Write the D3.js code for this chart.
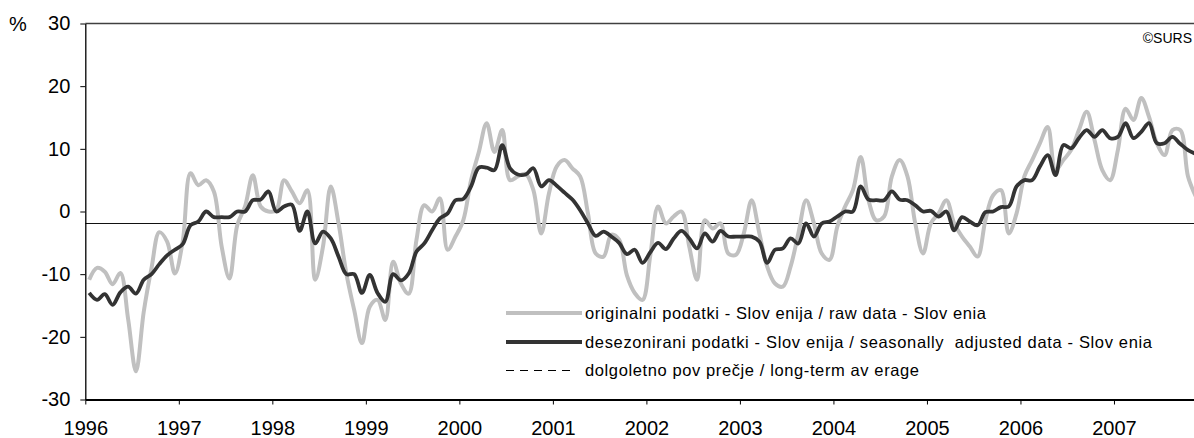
<!DOCTYPE html>
<html>
<head>
<meta charset="utf-8">
<script src="https://cdn.jsdelivr.net/npm/d3@7"></script>
<style>
  body { margin: 0; background: #fff; }
  svg text { font-family: "Liberation Sans", Arial, sans-serif; fill: #000; }
</style>
</head>
<body>
<div id="plot"></div>
<script>
// monthly data, Jan 1996 onwards

  const years = ["1996","1997","1998","1999","2000","2001","2002","2003","2004","2005","2006","2007"];

  const rawData = [
    -10.9, -9.0, -9.6, -11.6, -9.8, -17.2, -25.5, -16.0, -9.0, -3.3, -4.8, -9.9,
    -4.8, 6.1, 4.2, 5.0, 3.2, -5.6, -10.7, -2.2, 0.8, 5.8, 0.8, 0,
    0.2, 5.0, 3.2, 1.3, 3.4, -10.9, -5.6, 4.0, -1.9, -9.9, -15.7, -21.0,
    -15.2, -14.1, -17.3, -8.0, -11.5, -13.1, -4.5, 1.0, 0, 2.1, -6.1, -4.0,
    -1.4, 5.0, 9.5, 14.1, 9.5, 13.0, 5.0, 5.6, 6.0, 3.4, -3.5, 2.9,
    7.2, 8.2, 6.9, 5.6, -0.3, -6.7, -7.2, -3.7, -4.5, -10.2, -13.0, -14.1,
    -7.0, 0.8, -1.9, -0.8, 0, -5.6, -10.9, -1.4, -2.7, -1.9, -6.7, -6.9,
    -3.5, 1.8, -3.5, -8.8, -11.5, -12.0, -8.8, -3.5, 1.8, -1.9, -6.7, -7.7,
    -2.4, 0.8, 3.4, 8.7, 1.8, -1.4, -0.8, 5.6, 8.2, 5.6, -1.9, -6.7,
    -1.9, -0.3, 1.8, -1.9, -4.0, -5.6, -7.2, -1.4, 2.6, 3.4, -3.5, -0.3,
    5.6, 8.2, 10.9, 13.5, 6.6, 8.2, 9.8, 13.0, 15.9, 11.4, 6.6, 5.0,
    9.8, 16.4, 14.6, 18.1, 15.1, 10.9, 9.0, 13.0, 13.0, 5.6, 2.4
  ];

  const adjData = [
    -13.0, -14.1, -13.2, -14.9, -12.9, -12.0, -13.1, -10.9, -10.0, -8.4, -7.0, -6.1,
    -5.2, -2.2, -1.6, 0, -0.9, -0.9, -0.9, 0, 0, 1.8, 1.9, 3.2,
    0, 0.8, 1.1, -3.1, 0, -5.1, -3.2, -4.3, -7.2, -10.0, -10.0, -13.0,
    -10.1, -13.0, -14.4, -10.0, -11.0, -9.9, -6.4, -5.1, -3.0, -1.1, -0.3, 1.8,
    2.0, 4.0, 7.0, 7.0, 6.6, 10.6, 6.9, 5.9, 5.9, 6.9, 4.0, 5.0,
    4.1, 3.0, 1.9, 0.2, -1.9, -3.9, -3.2, -4.0, -5.0, -6.8, -6.1, -8.2,
    -6.5, -5.0, -6.0, -4.3, -3.1, -4.3, -5.9, -3.5, -4.8, -3.1, -4.0, -4.0,
    -4.0, -4.0, -4.8, -8.2, -6.1, -5.9, -4.3, -5.1, -1.9, -4.0, -1.9, -1.6,
    -0.8, 0, 0, 4.0, 1.9, 1.8, 1.8, 3.2, 1.9, 1.8, 1.0, 0,
    0.1, -0.8, 0, -3.0, -0.9, -1.6, -2.2, -0.1, 0, 0.7, 0.8, 4.0,
    5.0, 5.0, 7.2, 9.0, 5.8, 10.6, 10.1, 11.7, 13.0, 11.9, 13.0, 11.7,
    11.9, 14.1, 11.7, 12.7, 14.1, 10.9, 10.9, 11.9, 10.8, 9.8, 9.2
  ];

  const longTermAvg = -1.85;
  const yTicks = [-30, -20, -10, 0, 10, 20, 30];

  const legendLabels = [
    "originalni podatki - Slov enija / raw data - Slov enia",
    "desezonirani podatki - Slov enija / seasonally  adjusted data - Slov enia",
    "dolgoletno pov prečje / long-term av erage"
  ];

  const w = 1194;
  const h = 438;
  const left = 85.3;
  const monthW = 7.793;
  const font = "Liberation Sans, Arial, sans-serif";

  const xScale = d3.scaleLinear()
      .domain([0, 144])
      .range([left, left + 144 * monthW]);

  const yScale = d3.scaleLinear()
      .domain([-30, 30])
      .range([399.5, 23.5]);

  const svg = d3.select("#plot")
    .append("svg")
      .attr("width", w)
      .attr("height", h);

// top border of plot area

  svg.append("line")
      .attr("x1", left).attr("x2", w)
      .attr("y1", yScale(30)).attr("y2", yScale(30))
      .attr("stroke", "#404040")
      .attr("stroke-width", 1.3);

// long-term average

  svg.append("line")
      .attr("x1", left).attr("x2", w)
      .attr("y1", Math.round(yScale(longTermAvg)) + 0.5)
      .attr("y2", Math.round(yScale(longTermAvg)) + 0.5)
      .attr("stroke", "#111")
      .attr("stroke-width", 1);

// series lines

  const rawLine = d3.line()
      .x((d, i) => xScale(i + 0.5))
      .y(d => yScale(d))
      .curve(d3.curveCatmullRom.alpha(0.5));

  const adjLine = d3.line()
      .x((d, i) => xScale(i + 0.5))
      .y(d => yScale(d))
      .curve(d3.curveCatmullRom.alpha(0.5));

  svg.append("path")
      .datum(rawData)
      .attr("d", rawLine)
      .attr("fill", "none")
      .attr("stroke", "#c0c0c0")
      .attr("stroke-width", 4)
      .attr("stroke-linejoin", "round");

  svg.append("path")
      .datum(adjData)
      .attr("d", adjLine)
      .attr("fill", "none")
      .attr("stroke", "#333333")
      .attr("stroke-width", 3.8)
      .attr("stroke-linejoin", "round");

// axes

  const xAxis = d3.axisBottom(xScale)
      .tickValues(years.map((y, i) => i * 12))
      .tickFormat((d, i) => years[i])
      .tickSizeInner(5)
      .tickSizeOuter(0)
      .tickPadding(16.5);

  const yAxis = d3.axisLeft(yScale)
      .tickValues(yTicks)
      .tickFormat(d => String(d))
      .tickSizeInner(5)
      .tickSizeOuter(0)
      .tickPadding(10);

  const gx = svg.append("g")
      .attr("transform", `translate(0, ${yScale(-30)})`)
      .call(xAxis);
  gx.select(".domain").attr("stroke", "#000").attr("stroke-width", 2);
  gx.selectAll(".tick line").attr("stroke", "#000");
  gx.selectAll("text").attr("font-size", 20).attr("font-family", font).attr("fill", "#000");

  const gy = svg.append("g")
      .attr("transform", `translate(${left}, 0)`)
      .call(yAxis);
  gy.select(".domain").attr("stroke", "#000").attr("stroke-width", 1.3);
  gy.selectAll(".tick line").attr("stroke", "#000");
  gy.selectAll("text").attr("font-size", 20).attr("font-family", font).attr("fill", "#000");

  svg.append("text")
      .attr("x", 9)
      .attr("y", yScale(30))
      .attr("dy", "0.35em")
      .attr("font-size", 20)
      .text("%");

  svg.append("text")
      .attr("x", 1192)
      .attr("y", 43)
      .attr("text-anchor", "end")
      .attr("font-size", 14)
      .text("©SURS");

// legend

  const legendY = [313, 342, 370];
  const legendWidths = [401, 567, 334];
  const legendStyle = [
    {stroke: "#c0c0c0", width: 4, dash: null, x2: 582},
    {stroke: "#333333", width: 3.8, dash: null, x2: 582},
    {stroke: "#000", width: 1, dash: "8,6", x2: 574}
  ];

  const legend = svg.append("g");
  legendLabels.forEach((label, i) => {
    legend.append("line")
        .attr("x1", 506).attr("x2", legendStyle[i].x2)
        .attr("y1", legendY[i] + (i === 2 ? 0.5 : 0))
        .attr("y2", legendY[i] + (i === 2 ? 0.5 : 0))
        .attr("stroke", legendStyle[i].stroke)
        .attr("stroke-width", legendStyle[i].width)
        .attr("stroke-dasharray", legendStyle[i].dash);
    legend.append("text")
        .attr("x", 585)
        .attr("y", legendY[i])
        .attr("dy", "0.35em")
        .attr("font-size", 16.5)
        .attr("textLength", legendWidths[i])
        .attr("lengthAdjust", "spacing")
        .style("white-space", "pre")
        .text(label);
  });
</script>
</body>
</html>
